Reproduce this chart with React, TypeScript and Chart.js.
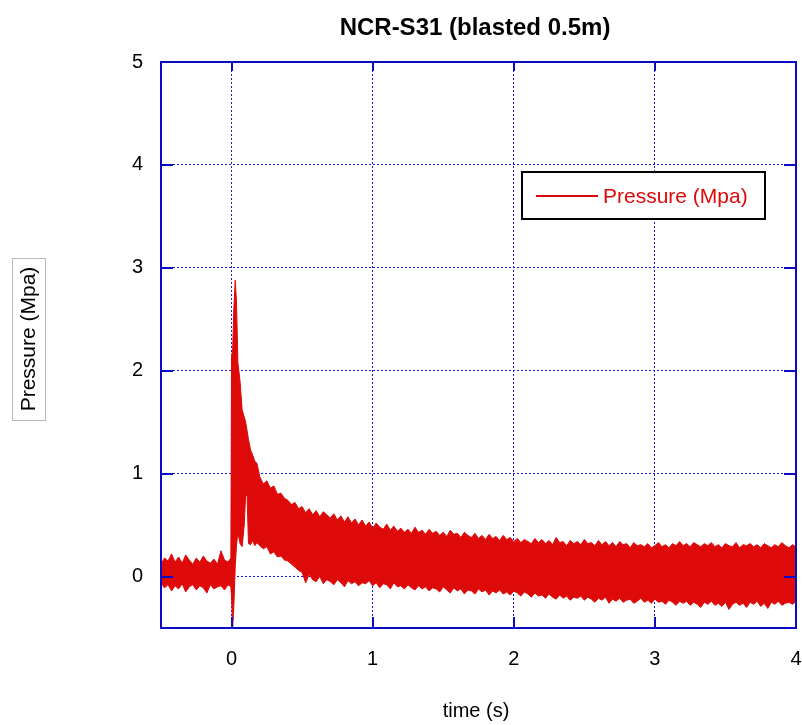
import React, { useEffect, useRef } from "react";
import { Chart, registerables } from "chart.js";

Chart.register(...registerables);

const chartTitle = "NCR-S31 (blasted 0.5m)";
const xTitle = "time (s)";
const yTitle = "Pressure (Mpa)";
const seriesName = "Pressure (Mpa)";
const xTicks = [0, 1, 2, 3, 4];
const yTicks = [0, 1, 2, 3, 4, 5];

// time (s)
const times = [
  -0.5, -0.475, -0.45, -0.425, -0.4, -0.375, -0.35, -0.325, -0.3, -0.275,
  -0.25, -0.225, -0.2, -0.175, -0.15, -0.125, -0.1, -0.075, -0.05, -0.025,
  -0.005, 0, 0.008, 0.016, 0.026, 0.035, 0.045, 0.06, 0.075, 0.09,
  0.1, 0.11, 0.12, 0.135, 0.15, 0.165, 0.18,
  0.2, 0.225, 0.25, 0.275, 0.3, 0.325, 0.35, 0.375, 0.4, 0.425,
  0.45, 0.475, 0.5, 0.525, 0.55, 0.575, 0.6, 0.625, 0.65, 0.675,
  0.7, 0.725, 0.75, 0.775, 0.8, 0.825, 0.85, 0.875, 0.9, 0.925,
  0.95, 0.975, 1.0, 1.025, 1.05, 1.075, 1.1, 1.125, 1.15, 1.175,
  1.2, 1.225, 1.25, 1.275, 1.3, 1.325, 1.35, 1.375, 1.4, 1.425,
  1.45, 1.475, 1.5, 1.525, 1.55, 1.575, 1.6, 1.625, 1.65, 1.675,
  1.7, 1.725, 1.75, 1.775, 1.8, 1.825, 1.85, 1.875, 1.9, 1.925,
  1.95, 1.975, 2.0, 2.025, 2.05, 2.075, 2.1, 2.125, 2.15, 2.175,
  2.2, 2.225, 2.25, 2.275, 2.3, 2.325, 2.35, 2.375, 2.4, 2.425,
  2.45, 2.475, 2.5, 2.525, 2.55, 2.575, 2.6, 2.625, 2.65, 2.675,
  2.7, 2.725, 2.75, 2.775, 2.8, 2.825, 2.85, 2.875, 2.9, 2.925,
  2.95, 2.975, 3.0, 3.025, 3.05, 3.075, 3.1, 3.125, 3.15, 3.175,
  3.2, 3.225, 3.25, 3.275, 3.3, 3.325, 3.35, 3.375, 3.4, 3.425,
  3.45, 3.475, 3.5, 3.525, 3.55, 3.575, 3.6, 3.625, 3.65, 3.675,
  3.7, 3.725, 3.75, 3.775, 3.8, 3.825, 3.85, 3.875, 3.9, 3.925,
  3.95, 3.975, 4.0,
];

// upper edge of the pressure trace (MPa)
const pressureHigh = [
  0.12, 0.18, 0.15, 0.22, 0.14, 0.19, 0.13, 0.21, 0.16, 0.12,
  0.18, 0.14, 0.2, 0.15, 0.13, 0.17, 0.12, 0.25, 0.16, 0.14,
  0.18, 2.14, 2.2, 2.6, 2.88, 2.67, 2.08, 1.9, 1.62, 1.55,
  1.5, 1.42, 1.33, 1.23, 1.18, 1.12, 1.1,
  0.97, 0.9, 0.93, 0.86, 0.88, 0.8, 0.81, 0.76, 0.74, 0.7,
  0.72, 0.66, 0.68, 0.62, 0.66, 0.6, 0.64, 0.58, 0.63, 0.6,
  0.57, 0.61, 0.55, 0.59, 0.53, 0.58, 0.52, 0.56, 0.5, 0.55,
  0.49, 0.53, 0.47, 0.52, 0.48, 0.46, 0.51, 0.45, 0.49, 0.44,
  0.47, 0.43, 0.46, 0.42, 0.48, 0.43, 0.45, 0.41, 0.46, 0.42,
  0.44, 0.4, 0.43, 0.39, 0.45, 0.41, 0.42, 0.38, 0.43, 0.4,
  0.38, 0.42, 0.37, 0.4, 0.36, 0.41, 0.37, 0.39, 0.35, 0.4,
  0.36, 0.38, 0.34, 0.37, 0.33, 0.36, 0.34, 0.32, 0.37, 0.33,
  0.36, 0.32, 0.35, 0.31, 0.38, 0.33, 0.34, 0.3, 0.35, 0.32,
  0.34, 0.31, 0.36, 0.32, 0.33, 0.3, 0.35, 0.31, 0.34, 0.3,
  0.33, 0.29, 0.34, 0.31, 0.32, 0.28, 0.33, 0.3, 0.31, 0.29,
  0.32, 0.28, 0.3, 0.33, 0.29, 0.31, 0.28, 0.32, 0.3, 0.34,
  0.3, 0.32, 0.29, 0.33, 0.31, 0.29, 0.32, 0.3, 0.33, 0.29,
  0.31, 0.28, 0.32, 0.3, 0.29, 0.33, 0.28, 0.31, 0.3, 0.32,
  0.29, 0.31, 0.28, 0.32, 0.3, 0.28, 0.31, 0.29, 0.33, 0.3,
  0.28, 0.31, 0.29,
];

// lower edge of the pressure trace (MPa)
const pressureLow = [
  -0.06, -0.11, -0.08, -0.14, -0.09, -0.12, -0.07, -0.15, -0.1, -0.08,
  -0.13, -0.09, -0.11, -0.16, -0.08, -0.12, -0.1, -0.09, -0.13, -0.08,
  -0.1, -0.2, -0.49, -0.3, 0.1, 0.3, 0.43, 0.32, 0.29, 0.5,
  0.8, 0.78, 0.32, 0.31, 0.35, 0.3, 0.33,
  0.3, 0.27, 0.29, 0.22, 0.24, 0.19, 0.2, 0.16, 0.15, 0.12,
  0.09, 0.06, 0.04, -0.06, 0.02, -0.03, -0.05, 0.0, -0.07, -0.03,
  -0.05, -0.08, -0.03, -0.06, -0.1, -0.04, -0.07, -0.05, -0.09, -0.06,
  -0.07, -0.04, -0.09, -0.06, -0.11, -0.07, -0.08, -0.12, -0.06, -0.1,
  -0.09, -0.12, -0.08, -0.11, -0.13, -0.09, -0.12, -0.1, -0.14, -0.11,
  -0.12, -0.15, -0.1, -0.13, -0.16, -0.11, -0.14, -0.12, -0.17, -0.13,
  -0.14, -0.17, -0.12, -0.15, -0.13, -0.18, -0.14, -0.16, -0.13, -0.17,
  -0.15, -0.18, -0.14, -0.16, -0.19, -0.15, -0.17, -0.2, -0.16, -0.19,
  -0.18, -0.21, -0.17, -0.2, -0.22, -0.18, -0.21, -0.19, -0.23, -0.2,
  -0.21, -0.19, -0.23, -0.2, -0.22, -0.25, -0.21, -0.23, -0.2, -0.26,
  -0.22, -0.24, -0.21, -0.25, -0.23, -0.22, -0.26, -0.24, -0.21, -0.25,
  -0.23, -0.26, -0.22, -0.25, -0.24, -0.27, -0.23, -0.25, -0.28, -0.24,
  -0.26, -0.24, -0.28, -0.25, -0.27, -0.3, -0.25, -0.27, -0.24, -0.28,
  -0.26, -0.29, -0.25, -0.32, -0.27, -0.25, -0.28, -0.26, -0.3, -0.25,
  -0.27, -0.24, -0.29, -0.26, -0.31, -0.25, -0.27, -0.24, -0.28, -0.26,
  -0.25, -0.27, -0.24,
];

const RED = "#de0909";
const BLUE = "#0b0bc4";
const GRID = "#1a1ad8";
const FONT = "'Liberation Sans', Arial, sans-serif";

const decorPlugin = {
  id: "decor",
  afterDraw(chart: any) {
    const { ctx, chartArea } = chart;
    const { left, right, top, bottom } = chartArea;
    const xs = chart.scales.x;
    const ys = chart.scales.y;
    ctx.save();
    // border
    ctx.strokeStyle = BLUE;
    ctx.lineWidth = 2;
    ctx.strokeRect(left, top, right - left, bottom - top);
    // inner tick marks
    ctx.beginPath();
    for (const v of yTicks) {
      const y = Math.round(ys.getPixelForValue(v));
      ctx.moveTo(left, y);
      ctx.lineTo(left + 12, y);
      ctx.moveTo(right, y);
      ctx.lineTo(right - 12, y);
    }
    for (const v of xTicks) {
      const x = Math.round(xs.getPixelForValue(v));
      ctx.moveTo(x, bottom);
      ctx.lineTo(x, bottom - 11);
      ctx.moveTo(x, top);
      ctx.lineTo(x, top + 9);
    }
    ctx.stroke();

    // x tick labels
    ctx.fillStyle = "#000";
    ctx.textAlign = "center";
    ctx.textBaseline = "alphabetic";
    ctx.font = `20px ${FONT}`;
    for (const v of xTicks) {
      ctx.fillText(String(v), xs.getPixelForValue(v), 665);
    }

    // title
    ctx.font = `bold 24px ${FONT}`;
    ctx.fillText(chartTitle, 475, 35);
    // x title
    ctx.font = `20px ${FONT}`;
    ctx.fillText(xTitle, 476, 717);
    // y title in a box
    ctx.strokeStyle = "#b8b8b8";
    ctx.lineWidth = 1;
    ctx.strokeRect(12.5, 258.5, 33, 162);
    ctx.save();
    ctx.translate(29, 339);
    ctx.rotate(-Math.PI / 2);
    ctx.textBaseline = "middle";
    ctx.font = `21px ${FONT}`;
    ctx.fillText(yTitle, 0, 0);
    ctx.restore();

    // legend
    ctx.fillStyle = "#fff";
    ctx.fillRect(522, 172, 243, 47);
    ctx.strokeStyle = "#000";
    ctx.lineWidth = 2;
    ctx.strokeRect(522, 172, 243, 47);
    ctx.strokeStyle = RED;
    ctx.lineWidth = 2;
    ctx.beginPath();
    ctx.moveTo(536, 196);
    ctx.lineTo(598, 196);
    ctx.stroke();
    ctx.fillStyle = RED;
    ctx.textAlign = "left";
    ctx.textBaseline = "middle";
    ctx.font = `21px ${FONT}`;
    ctx.fillText(seriesName, 603, 197);
    ctx.restore();
  },
};

export default function App() {
  const ref = useRef<HTMLCanvasElement | null>(null);
  useEffect(() => {
    document.body.style.margin = "0";
    const canvas = ref.current!;
    const high = times.map((t, i) => ({ x: t, y: pressureHigh[i] }));
    const low = times.map((t, i) => ({ x: t, y: pressureLow[i] }));
    const chart = new Chart(canvas, {
      type: "line",
      data: {
        datasets: [
          {
            label: seriesName,
            data: high,
            borderColor: RED,
            borderWidth: 1,
            pointRadius: 0,
            tension: 0,
            fill: false,
          },
          {
            label: seriesName + " low",
            data: low,
            borderColor: RED,
            backgroundColor: RED,
            borderWidth: 1,
            pointRadius: 0,
            tension: 0,
            fill: "-1",
          },
        ],
      },
      options: {
        responsive: false,
        animation: false,
        events: [],
        layout: { autoPadding: false, padding: { top: 62, right: 6, left: 0, bottom: 0 } },
        plugins: {
          legend: { display: false },
          tooltip: { enabled: false },
          title: { display: false },
        },
        scales: {
          x: {
            type: "linear",
            min: -0.5,
            max: 4,
            afterBuildTicks: (s: any) => {
              s.ticks = xTicks.map((v) => ({ value: v }));
            },
            afterFit: (s: any) => {
              s.height = 97;
              s.paddingLeft = 0;
              s.paddingRight = 0;
            },
            ticks: { display: false },
            grid: {
              color: GRID,
              lineWidth: 1,
              drawTicks: false,
            },
            border: { display: false, dash: [2, 2] },
          },
          y: {
            type: "linear",
            min: -0.5,
            max: 5,
            afterBuildTicks: (s: any) => {
              s.ticks = yTicks.map((v) => ({ value: v }));
            },
            afterFit: (s: any) => {
              s.width = 161;
            },
            ticks: {
              color: "#000",
              font: { family: FONT, size: 20 },
              padding: 18,
              autoSkip: false,
            },
            grid: {
              color: GRID,
              lineWidth: 1,
              drawTicks: false,
            },
            border: { display: false, dash: [2, 2] },
          },
        },
      },
      plugins: [decorPlugin],
    });
    return () => chart.destroy();
  }, []);
  return (
    <canvas
      ref={ref}
      width={802}
      height={725}
      style={{ display: "block", width: 802, height: 725 }}
    />
  );
}
